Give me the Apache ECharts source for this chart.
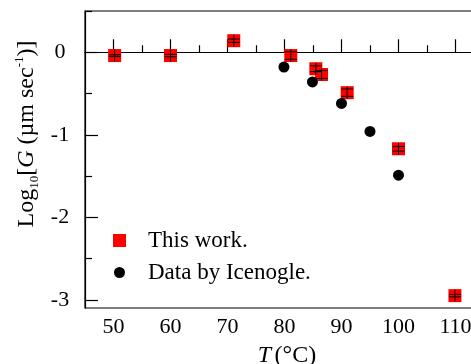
<!DOCTYPE html>
<html>
<head>
<meta charset="utf-8">
<script src="https://cdn.jsdelivr.net/npm/echarts@6/dist/echarts.min.js"></script>
<style>
  html, body { margin: 0; padding: 0; background: #fff; }
  #chart_growth { width: 471px; height: 364px; }
</style>
</head>
<body>
<div id="chart_growth"></div>
<script>
// this work: temperature (C), log10 growth rate, error half-width
var workT = [50.2, 60, 71.1, 81.1, 85.5, 86.5, 91, 100, 109.9];
var workG = [-0.04, -0.04, 0.14, -0.04, -0.2, -0.27, -0.49, -1.17, -2.95];
var workErr = [0.01, 0.015, 0.02, 0.046, 0.035, 0.048, 0.045, 0.027, 0.015];

// data by Icenogle
var iceT = [79.9, 84.9, 90, 95, 100];
var iceG = [-0.18, -0.36, -0.62, -0.96, -1.49];

var xMajor = [50, 60, 70, 80, 90, 100, 110];
var xMinor = [55, 65, 75, 85, 95, 105];
var yMajor = [0, -1, -2, -3];
var yMinor = [0.5, -0.5, -1.5, -2.5];

(function () {
    "use strict";
    var dom = document.getElementById("chart_growth");
    var myChart = echarts.init(dom);
    var serif = 'Liberation Serif';

    var workData = [], errData = [], iceData = [];
    for (var i = 0; i < workT.length; i++) {
        workData.push([workT[i], workG[i]]);
        errData.push([workT[i], workG[i], workErr[i]]);
    }
    for (var j = 0; j < iceT.length; j++) {
        iceData.push([iceT[j], iceG[j]]);
    }

    function xAxisOf(ticks, len, labels) {
        return {
            type: 'value', min: 45, max: 115, position: 'bottom',
            axisLine: { show: labels, lineStyle: { color: '#000', width: 1.2 } },
            splitLine: { show: false },
            axisTick: { inside: true, length: len, customValues: ticks,
                lineStyle: { color: '#000', width: 1.2 } },
            axisLabel: { show: labels, customValues: ticks, color: '#000',
                fontFamily: serif, fontSize: 22, margin: 8 }
        };
    }
    function yAxisOf(ticks, len, labels) {
        return {
            type: 'value', min: -3.1, max: 0.5, position: 'left',
            axisLine: { show: labels, lineStyle: { color: '#000', width: 1.2 } },
            splitLine: { show: false },
            axisTick: { inside: true, length: len, customValues: ticks,
                lineStyle: { color: '#000', width: 1.2 } },
            axisLabel: { show: labels, customValues: ticks, color: '#000',
                fontFamily: serif, fontSize: 22, margin: 25, align: 'center' }
        };
    }

    var option = {
        animation: false,
        // plot runs past the right edge of the picture (x max 115)
        grid: { left: 85, top: 11, width: 399, height: 297, show: true,
            outerBoundsMode: 'none', containLabel: false,
            borderColor: '#000', borderWidth: 1.2, backgroundColor: 'transparent' },
        xAxis: [xAxisOf(xMajor, 13, true), xAxisOf(xMinor, 7, false)],
        yAxis: [yAxisOf(yMajor, 13, true), yAxisOf(yMinor, 7, false)],
        legend: {
            orient: 'vertical', left: 113, top: 229, padding: 0, itemGap: 9,
            itemWidth: 13, itemHeight: 13,
            textStyle: { fontFamily: serif, fontSize: 23, lineHeight: 23,
                color: '#000', padding: [0, 0, 0, 17] },
            data: [
                { name: 'This work.', icon: 'rect' },
                // smaller dot inside the 13px legend box
                { name: 'Data by Icenogle.', icon: 'path://M0 0M13 13M12 6.5A5.5 5.5 0 1 1 1 6.5A5.5 5.5 0 1 1 12 6.5Z' }
            ]
        },
        graphic: [
            {
                type: 'text', x: 27, y: 134, rotation: Math.PI / 2,
                style: {
                    text: '{n|Log}{sub|10}{n|[}{i|G}{n| (µm sec}{sup|-1}{n|)]}',
                    textAlign: 'center', textVerticalAlign: 'middle',
                    fill: '#000',
                    rich: {
                        n: { fontFamily: serif, fontSize: 24, lineHeight: 28, fill: '#000' },
                        i: { fontFamily: serif, fontSize: 24, lineHeight: 28, fontStyle: 'italic', fill: '#000' },
                        sub: { fontFamily: serif, fontSize: 13, lineHeight: 13, verticalAlign: 'bottom', fill: '#000' },
                        sup: { fontFamily: serif, fontSize: 13, lineHeight: 13, verticalAlign: 'top', fill: '#000' }
                    }
                }
            },
            {
                type: 'text', x: 287, y: 356,
                style: {
                    text: '{i|T} {n|(°C)}',
                    textAlign: 'center', textVerticalAlign: 'middle',
                    fill: '#000',
                    rich: {
                        n: { fontFamily: serif, fontSize: 24, fill: '#000' },
                        i: { fontFamily: serif, fontSize: 24, fontStyle: 'italic', fill: '#000' }
                    }
                }
            }
        ],
        series: [
            {
                name: 'This work.', type: 'scatter', symbol: 'rect', symbolSize: 13,
                itemStyle: { color: '#ff0000', opacity: 1 }, z: 2,
                data: workData
            },
            {
                name: 'err', type: 'custom', z: 3,
                renderItem: function (params, api) {
                    var x = api.value(0), y = api.value(1), e = api.value(2);
                    var c = api.coord([x, y]);
                    var hi = api.coord([x, y + e]);
                    var lo = api.coord([x, y - e]);
                    var st = { stroke: '#000', lineWidth: 1 };
                    return {
                        type: 'group',
                        children: [
                            { type: 'line', shape: { x1: c[0], y1: Math.min(hi[1], c[1] - 6), x2: c[0], y2: Math.max(lo[1], c[1] + 6) }, style: st },
                            { type: 'line', shape: { x1: c[0] - 6, y1: hi[1], x2: c[0] + 6, y2: hi[1] }, style: st },
                            { type: 'line', shape: { x1: c[0] - 6, y1: lo[1], x2: c[0] + 6, y2: lo[1] }, style: st }
                        ]
                    };
                },
                data: errData
            },
            {
                name: 'Data by Icenogle.', type: 'scatter', symbol: 'circle', symbolSize: 11,
                itemStyle: { color: '#000', opacity: 1 }, z: 4,
                data: iceData
            }
        ]
    };

    myChart.setOption(option, true);
})();
</script>
</body>
</html>
